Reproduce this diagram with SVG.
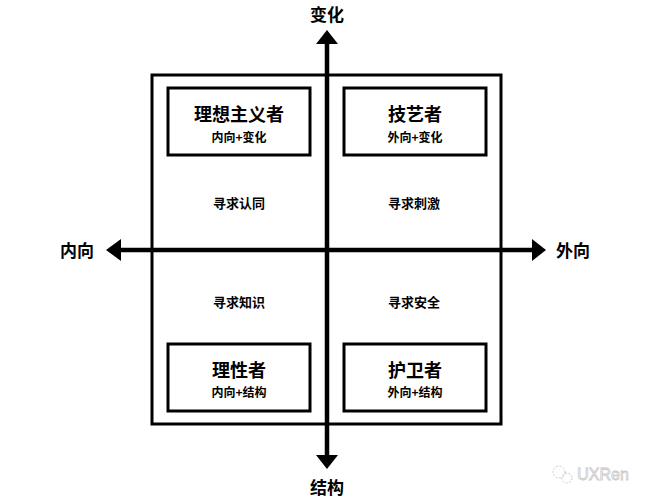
<svg xmlns="http://www.w3.org/2000/svg" width="649" height="501" viewBox="0 0 649 501">
<style>
text{font-family:"Noto Sans CJK SC","Noto Sans",sans-serif;font-weight:bold;fill:#000;text-anchor:middle;dominant-baseline:central}
.box{fill:#fff;stroke:#000;stroke-width:3}
.t{font-size:18px}
.s{font-size:12px}
.m{font-size:13px}
.ax{font-size:17px}
.axis{stroke:#000;stroke-width:4.5;fill:none}
</style>
<rect width="649" height="501" fill="#fff"/>
<g id="frame"><rect x="152" y="75" width="349" height="349" fill="none" stroke="#000" stroke-width="3"/></g>
<g id="connectors">
<line class="axis" x1="327" y1="40" x2="327" y2="458"/>
<line class="axis" x1="118" y1="250" x2="536" y2="250"/>
<polygon points="327,30 316,44 338,44"/>
<polygon points="327,469 316,455 338,455"/>
<polygon points="106,250 121,239 121,261"/>
<polygon points="546,250 532,239 532,261"/>
</g>
<g id="axis-labels">
<text class="ax" x="327" y="13">变化</text>
<text class="ax" x="327" y="486">结构</text>
<text class="ax" x="77" y="249">内向</text>
<text class="ax" x="573" y="249">外向</text>
</g>
<g id="idealist"><rect class="box" x="168" y="88" width="142" height="67"/><text class="t" x="239" y="113">理想主义者</text><text class="s" x="239" y="136">内向+变化</text></g>
<g id="artisan"><rect class="box" x="344" y="88" width="142" height="67"/><text class="t" x="415" y="113">技艺者</text><text class="s" x="415" y="136">外向+变化</text></g>
<g id="rational"><rect class="box" x="168" y="344" width="142" height="67"/><text class="t" x="239" y="369">理性者</text><text class="s" x="239" y="391">内向+结构</text></g>
<g id="guardian"><rect class="box" x="344" y="344" width="142" height="67"/><text class="t" x="415" y="369">护卫者</text><text class="s" x="415" y="391">外向+结构</text></g>
<g id="quadrant-labels">
<text class="m" x="239" y="202">寻求认同</text>
<text class="m" x="414" y="202">寻求刺激</text>
<text class="m" x="239" y="301">寻求知识</text>
<text class="m" x="414" y="301">寻求安全</text>
</g>
<g id="watermark">
<circle cx="559" cy="472" r="6" fill="none" stroke="#ccc" stroke-width="1" stroke-dasharray="2 1.5"/>
<circle cx="567" cy="478" r="5" fill="none" stroke="#ccc" stroke-width="1" stroke-dasharray="2 1.5"/>
<text x="603" y="474" style="font-family:'Liberation Sans',sans-serif;font-weight:normal;font-size:16px;fill:#fff;stroke:#c8c8c8;stroke-width:0.8">UXRen</text>
</g>
</svg>
